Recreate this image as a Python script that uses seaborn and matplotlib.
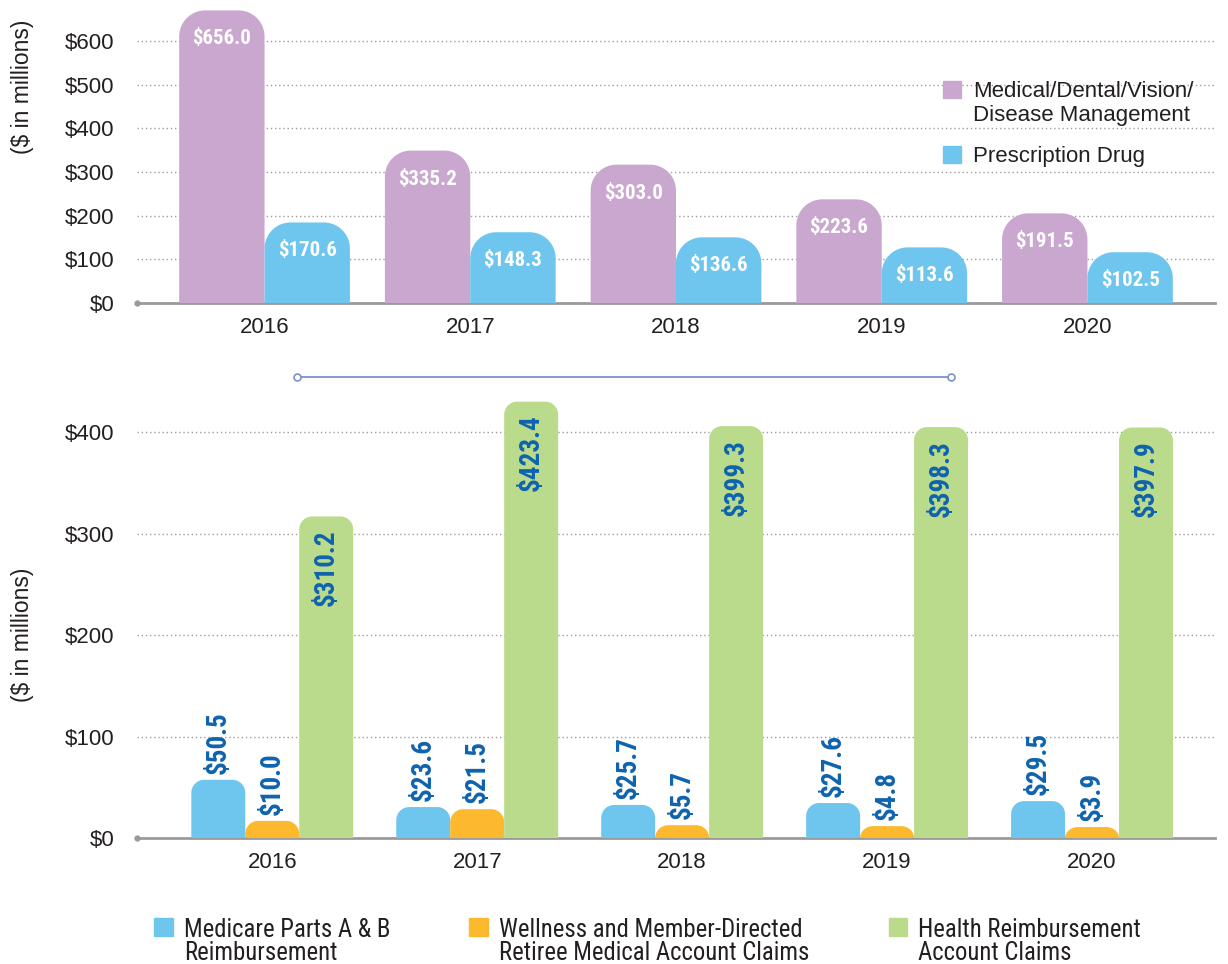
import numpy as np
import pandas as pd
import matplotlib
matplotlib.use("Agg")
import matplotlib.pyplot as plt
import seaborn as sns
from matplotlib import font_manager
from matplotlib.font_manager import FontProperties
from matplotlib.patches import Polygon, Patch
from matplotlib.lines import Line2D

years = ["2016", "2017", "2018", "2019", "2020"]

# top panel
medical = [656.0, 335.2, 303.0, 223.6, 191.5]
rx_drug = [170.6, 148.3, 136.6, 113.6, 102.5]
top_series = ["Medical/Dental/Vision/\nDisease Management", "Prescription Drug"]

# bottom panel
medicare = [50.5, 23.6, 25.7, 27.6, 29.5]
wellness = [10.0, 21.5, 5.7, 4.8, 3.9]
hra = [310.2, 423.4, 399.3, 398.3, 397.9]
bottom_series = ["Medicare Parts A & B\nReimbursement",
                 "Wellness and Member-Directed\nRetiree Medical Account Claims",
                 "Health Reimbursement\nAccount Claims"]

top_ticks = [0, 100, 200, 300, 400, 500, 600]
bottom_ticks = [0, 100, 200, 300, 400]

PURPLE = "#c9a7cf"
BLUE = "#6ec6ee"
ORANGE = "#fcb92e"
GREEN = "#badb8c"
LABEL_BLUE = "#0f63ae"
TEXT = "#231f20"

sns.set_style("white")
plt.rcParams["font.family"] = ["Liberation Sans", "DejaVu Sans"]


def find_narrow(bold):
    """Look for a condensed sans face; fall back to Liberation Sans."""
    fonts = font_manager.fontManager.ttflist
    want = lambda f: (f.weight in ("bold", 700)) == bold and f.style == "normal"
    for key in ("Liberation Sans Narrow", "Roboto Condensed", "Open Sans Condensed"):
        for f in fonts:
            if f.name == key and want(f):
                return f.fname
    for f in fonts:
        if f.stretch in ("condensed", "semi-condensed") and want(f) \
                and ("Sans" in f.name or "Roboto" in f.name):
            return f.fname
    return None


def narrow_props(bold, size):
    path = find_narrow(bold)
    if path:
        return FontProperties(fname=path, size=size)
    return FontProperties(family="Liberation Sans", weight="bold" if bold else "normal",
                          size=size)


HAS_NARROW = find_narrow(False) is not None


def round_tops(ax, radius_px, cap_px):
    """Replace the seaborn rectangles with round-topped polygons."""
    o = ax.transData.transform((0, 0))
    sx = ax.transData.transform((1, 0))[0] - o[0]
    sy = ax.transData.transform((0, 1))[1] - o[1]
    tops = []
    for p in list(ax.patches):
        x, y, w, h = p.get_x(), p.get_y(), p.get_width(), p.get_height()
        if not np.isfinite(h) or h <= 0:
            continue
        h = h + cap_px / sy
        rx = min(radius_px / sx, w / 2)
        ry = min(radius_px / sy, h)
        t = np.linspace(np.pi, np.pi / 2, 16)
        left_arc = np.c_[x + rx + rx * np.cos(t), y + h - ry + ry * np.sin(t)]
        t = np.linspace(np.pi / 2, 0, 16)
        right_arc = np.c_[x + w - rx + rx * np.cos(t), y + h - ry + ry * np.sin(t)]
        verts = np.vstack([[x, y], left_arc, right_arc, [x + w, y]])
        ax.add_patch(Polygon(verts, closed=True, facecolor=p.get_facecolor(),
                             edgecolor="none", zorder=3, clip_on=False))
        p.set_visible(False)
        tops.append((x + w / 2, y + h))
    return tops


def style_axis(ax, ticks, ymax):
    ax.set_ylim(0, ymax)
    ax.set_yticks(ticks)
    ax.set_yticklabels([f"${t}" for t in ticks], fontsize=16, color=TEXT)
    ax.tick_params(axis="x", labelsize=16, colors=TEXT, length=0, pad=10)
    ax.tick_params(axis="y", length=0, pad=16)
    for t in ticks[1:]:
        ax.axhline(t, color="#9d9d9d", lw=1, ls=(0, (1, 2)), zorder=0)
    sns.despine(ax=ax, left=True)
    ax.spines["bottom"].set_color("#9a9a9a")
    ax.spines["bottom"].set_linewidth(2)
    ax.plot([ax.get_xlim()[0]], [0], "o", color="#9a9a9a", ms=3.5,
            clip_on=False, zorder=4)
    ax.set_xlabel("")


def top_align(leg, linespacing):
    # put each square level with the first line of its label
    for col in leg._legend_handle_box.get_children():
        for item in col.get_children():
            item.align = "top"
    for t in leg.get_texts():
        t.set_linespacing(linespacing)


fig = plt.figure(figsize=(12.28, 9.64), dpi=100)

# ---------------- top chart ----------------
ax1 = fig.add_axes([137 / 1228, 1 - 303 / 964, 1078 / 1228, 294 / 964])
df_top = pd.DataFrame({
    "year": years * 2,
    "value": medical + rx_drug,
    "series": [top_series[0]] * 5 + [top_series[1]] * 5,
})
sns.barplot(data=df_top, x="year", y="value", hue="series",
            palette=[PURPLE, BLUE], width=0.83, saturation=1,
            linewidth=0, legend=False, ax=ax1)
ax1.set_xlim(-0.62, 4.62)
style_axis(ax1, top_ticks, 673)
ax1.set_ylabel("($ in millions)", fontsize=16.5, color=TEXT)
ax1.yaxis.set_label_coords(-0.096, 0.735)

bar_font = narrow_props(True, 15 if HAS_NARROW else 14.5)
tops = round_tops(ax1, 26, 6)
for (xc, yt), v in zip(tops, medical + rx_drug):
    ax1.annotate(f"${v:.1f}", (xc, yt), xytext=(0, -19), textcoords="offset pixels",
                 ha="center", va="top", color="white", fontproperties=bar_font,
                 zorder=5, annotation_clip=False)

leg1 = ax1.legend(handles=[Patch(color=PURPLE), Patch(color=BLUE)], labels=top_series,
                  loc="upper left", bbox_to_anchor=(923 / 1228, 1 - 61 / 964),
                  bbox_transform=fig.transFigure, frameon=False, fontsize=16,
                  handlelength=0.8, handleheight=0.8, handletextpad=0.55,
                  labelspacing=0.9, labelcolor=TEXT)
top_align(leg1, 1.2)

# ---------------- bottom chart ----------------
ax2 = fig.add_axes([137 / 1228, 1 - 838 / 964, 1078 / 1228, 433 / 964])
df_bot = pd.DataFrame({
    "year": years * 3,
    "value": medicare + wellness + hra,
    "series": [bottom_series[0]] * 5 + [bottom_series[1]] * 5 + [bottom_series[2]] * 5,
})
sns.barplot(data=df_bot, x="year", y="value", hue="series",
            palette=[BLUE, ORANGE, GREEN], width=0.79, saturation=1,
            linewidth=0, legend=False, ax=ax2)
ax2.set_xlim(-0.66, 4.6)
style_axis(ax2, bottom_ticks, 427)
ax2.set_ylabel("($ in millions)", fontsize=16.5, color=TEXT)
ax2.yaxis.set_label_coords(-0.096, 0.469)

value_font = narrow_props(True, 19.5 if HAS_NARROW else 17)
tops = round_tops(ax2, 13, 7)
for i, ((xc, yt), v) in enumerate(zip(tops, medicare + wellness + hra)):
    inside = i >= 10
    ax2.annotate(f"${v:.1f}", (xc, yt), xytext=(0, -13 if inside else 6),
                 textcoords="offset pixels", ha="center",
                 va="top" if inside else "bottom", rotation=90,
                 color=LABEL_BLUE, fontproperties=value_font, zorder=5,
                 annotation_clip=False)

leg2 = fig.legend(handles=[Patch(color=BLUE), Patch(color=ORANGE), Patch(color=GREEN)],
                  labels=bottom_series, loc="upper left", ncol=3,
                  bbox_to_anchor=(132 / 1228, 1 - 896 / 964), frameon=False,
                  prop=narrow_props(False, 17.8 if HAS_NARROW else 15.5),
                  handlelength=0.75, handleheight=0.75, handletextpad=0.45,
                  columnspacing=3.2, labelcolor=TEXT)
top_align(leg2, 0.95)

# connector between the panels
fig.add_artist(Line2D([297 / 1228, 951 / 1228], [1 - 377 / 964, 1 - 377 / 964],
                      transform=fig.transFigure, color="#7b93c9", lw=1.3,
                      marker="o", ms=5, mfc="white", mec="#7b93c9", mew=1.2))

fig.savefig("out.png", dpi=100)
